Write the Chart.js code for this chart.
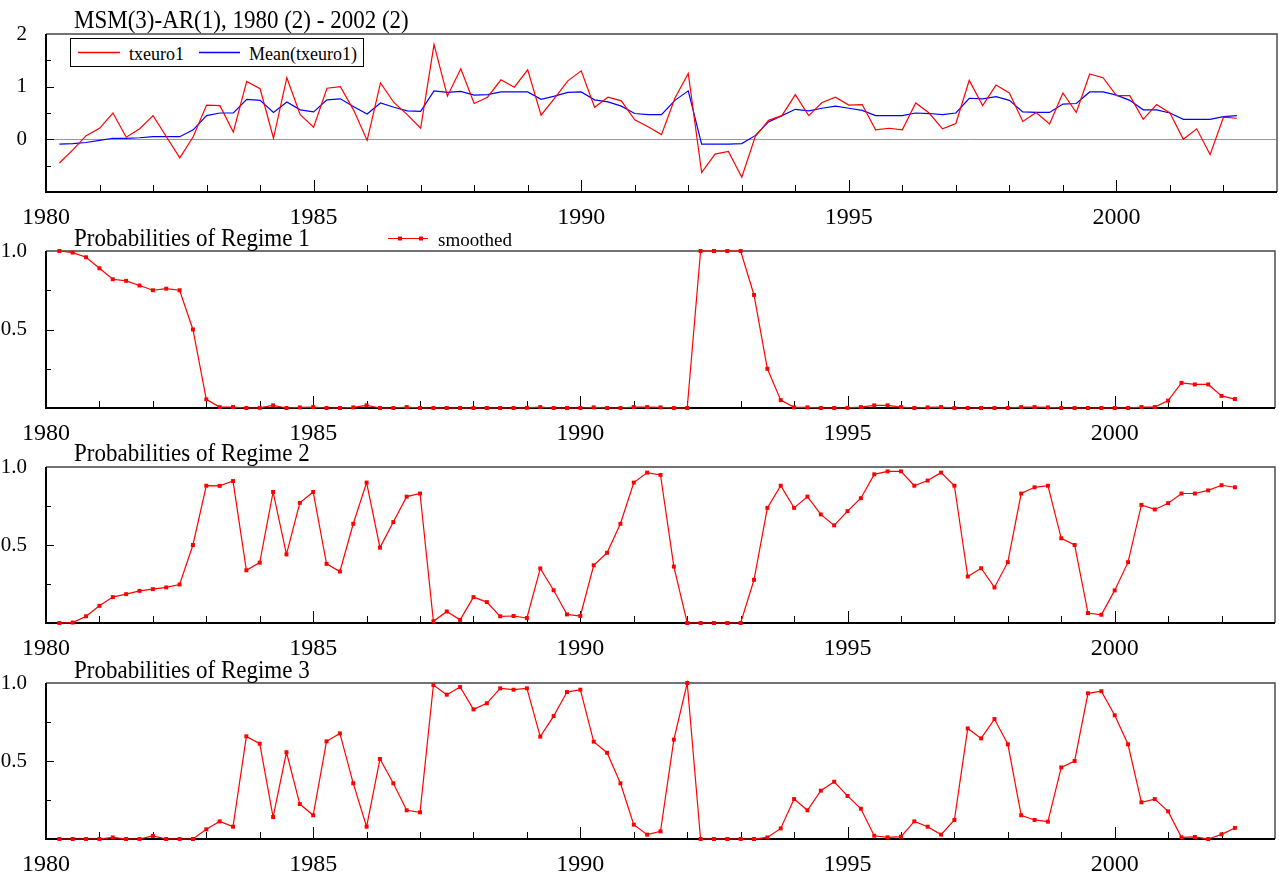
<!DOCTYPE html>
<html>
<head>
<meta charset="utf-8">
<script src="https://cdn.jsdelivr.net/npm/chart.js@4.4.1/dist/chart.umd.min.js"></script>
<style>
body { margin: 0; background: #fff; width: 1279px; height: 875px; position: relative; overflow: hidden; font-family: 'Liberation Serif', 'Times New Roman', serif; }
canvas { position: absolute; left: 0; }
.t { position: absolute; white-space: nowrap; line-height: 1; color: #000; transform-origin: 0 0; z-index: 2; }
.title { font-size: 25px; transform: scaleX(0.92); }
.legend { position: absolute; left: 70px; top: 38px; width: 292px; height: 27px; border: 1px solid #000; background: #fff; z-index: 2; }
.legend .t { font-size: 18px; }
svg.keys { position: absolute; left: 0; top: 0; z-index: 3; }
</style>
</head>
<body>
<canvas id="p1" width="1279" height="204" style="top:24px"></canvas>
<canvas id="p2" width="1279" height="203" style="top:241px"></canvas>
<canvas id="p3" width="1279" height="202" style="top:457px"></canvas>
<canvas id="p4" width="1279" height="202" style="top:673px"></canvas>

<div class="t title" style="left:74px;top:7px">MSM(3)-AR(1), 1980 (2) - 2002 (2)</div>
<div class="legend">
  <div class="t" style="left:58px;top:6px">txeuro1</div>
  <div class="t" style="left:178px;top:6px">Mean(txeuro1)</div>
</div>
<svg class="keys" width="1279" height="875">
  <line x1="78" y1="52.5" x2="120" y2="52.5" stroke="#ff0000" stroke-width="1.3"/>
  <line x1="199" y1="52.5" x2="240" y2="52.5" stroke="#0000ff" stroke-width="1.3"/>
  <line x1="388" y1="238.5" x2="428" y2="238.5" stroke="#ff0000" stroke-width="1.2"/>
  <rect x="398" y="236.5" width="4" height="4" fill="#ff0000"/>
  <rect x="419" y="236.5" width="4" height="4" fill="#ff0000"/>
</svg>
<div class="t title" style="left:74px;top:224.6px">Probabilities of Regime 1</div>
<div class="t" style="left:438px;top:229.6px;font-size:19px">smoothed</div>
<div class="t title" style="left:74px;top:439.6px">Probabilities of Regime 2</div>
<div class="t title" style="left:74px;top:657px">Probabilities of Regime 3</div>

<script>
// quarterly observations, 1980 (2) - 2002 (2)
var quarters = [
    '1980:2', '1980:3', '1980:4',
    '1981:1', '1981:2', '1981:3', '1981:4',
    '1982:1', '1982:2', '1982:3', '1982:4',
    '1983:1', '1983:2', '1983:3', '1983:4',
    '1984:1', '1984:2', '1984:3', '1984:4',
    '1985:1', '1985:2', '1985:3', '1985:4',
    '1986:1', '1986:2', '1986:3', '1986:4',
    '1987:1', '1987:2', '1987:3', '1987:4',
    '1988:1', '1988:2', '1988:3', '1988:4',
    '1989:1', '1989:2', '1989:3', '1989:4',
    '1990:1', '1990:2', '1990:3', '1990:4',
    '1991:1', '1991:2', '1991:3', '1991:4',
    '1992:1', '1992:2', '1992:3', '1992:4',
    '1993:1', '1993:2', '1993:3', '1993:4',
    '1994:1', '1994:2', '1994:3', '1994:4',
    '1995:1', '1995:2', '1995:3', '1995:4',
    '1996:1', '1996:2', '1996:3', '1996:4',
    '1997:1', '1997:2', '1997:3', '1997:4',
    '1998:1', '1998:2', '1998:3', '1998:4',
    '1999:1', '1999:2', '1999:3', '1999:4',
    '2000:1', '2000:2', '2000:3', '2000:4',
    '2001:1', '2001:2', '2001:3', '2001:4',
    '2002:1', '2002:2'
];

var txeuro1 = [
    -0.45, -0.20, 0.07, 0.21, 0.50, 0.04, 0.20, 0.45, 0.05, -0.35,
    0.05, 0.65, 0.64, 0.14, 1.10, 0.96, 0.02, 1.17, 0.47, 0.23,
    0.97, 1.00, 0.55, -0.02, 1.07, 0.70, 0.47, 0.21, 1.80, 0.82,
    1.34, 0.68, 0.80, 1.13, 0.99, 1.32, 0.46, 0.78, 1.11, 1.30,
    0.61, 0.80, 0.73, 0.37, 0.24, 0.09, 0.78, 1.25, -0.63, -0.28,
    -0.23, -0.72, 0.05, 0.36, 0.45, 0.85, 0.45, 0.70, 0.80, 0.65,
    0.66, 0.18, 0.21, 0.18, 0.69, 0.50, 0.20, 0.30, 1.12, 0.64,
    1.03, 0.88, 0.34, 0.51, 0.29, 0.88, 0.51, 1.24, 1.17, 0.83,
    0.83, 0.38, 0.66, 0.50, 0.00, 0.20, -0.29, 0.42, 0.40
];

var meanTxeuro1 = [
    -0.09, -0.08, -0.06, -0.02, 0.02, 0.02, 0.03, 0.05, 0.05, 0.05,
    0.18, 0.45, 0.50, 0.50, 0.76, 0.74, 0.51, 0.71, 0.56, 0.52,
    0.75, 0.77, 0.62, 0.48, 0.69, 0.61, 0.54, 0.53, 0.92, 0.89,
    0.91, 0.84, 0.85, 0.90, 0.90, 0.90, 0.76, 0.82, 0.89, 0.90,
    0.75, 0.71, 0.63, 0.49, 0.47, 0.47, 0.74, 0.92, -0.09, -0.09,
    -0.09, -0.08, 0.07, 0.33, 0.45, 0.57, 0.54, 0.59, 0.63, 0.59,
    0.55, 0.45, 0.45, 0.45, 0.50, 0.49, 0.47, 0.50, 0.78, 0.77,
    0.81, 0.74, 0.52, 0.51, 0.51, 0.67, 0.68, 0.90, 0.90, 0.84,
    0.74, 0.56, 0.56, 0.50, 0.38, 0.38, 0.38, 0.43, 0.45
];

var regime1 = [
    1.00, 0.99, 0.96, 0.89, 0.82, 0.81, 0.78, 0.75, 0.76, 0.75,
    0.50, 0.055, 0.006, 0.006, 0.00, 0.001, 0.017, 0.00, 0.004, 0.006,
    0.00, 0.00, 0.004, 0.017, 0.00, 0.00, 0.006, 0.00, 0.00, 0.00,
    0.00, 0.00, 0.00, 0.00, 0.00, 0.001, 0.006, 0.00, 0.00, 0.00,
    0.004, 0.00, 0.00, 0.006, 0.006, 0.004, 0.00, 0.00, 1.00, 1.00,
    1.00, 1.00, 0.72, 0.25, 0.05, 0.004, 0.004, 0.00, 0.00, 0.001,
    0.006, 0.017, 0.017, 0.006, 0.00, 0.004, 0.006, 0.00, 0.00, 0.00,
    0.00, 0.00, 0.006, 0.006, 0.004, 0.00, 0.00, 0.00, 0.00, 0.00,
    0.00, 0.006, 0.006, 0.047, 0.16, 0.15, 0.15, 0.077, 0.057
];

var regime2 = [
    0.00, 0.003, 0.043, 0.11, 0.166, 0.185, 0.206, 0.217, 0.228, 0.247,
    0.50, 0.88, 0.879, 0.91, 0.338, 0.387, 0.84, 0.44, 0.77, 0.84,
    0.379, 0.33, 0.636, 0.90, 0.483, 0.647, 0.81, 0.83, 0.011, 0.074,
    0.02, 0.166, 0.134, 0.043, 0.045, 0.032, 0.35, 0.21, 0.055, 0.045,
    0.37, 0.45, 0.636, 0.90, 0.964, 0.949, 0.362, 0.00, 0.00, 0.00,
    0.00, 0.00, 0.277, 0.738, 0.88, 0.738, 0.81, 0.696, 0.626, 0.717,
    0.80, 0.953, 0.972, 0.972, 0.88, 0.913, 0.964, 0.88, 0.298, 0.351,
    0.228, 0.39, 0.83, 0.87, 0.88, 0.543, 0.50, 0.064, 0.053, 0.209,
    0.39, 0.757, 0.728, 0.768, 0.83, 0.83, 0.85, 0.883, 0.87
];

var regime3 = [
    0.00, 0.00, 0.00, 0.00, 0.01, 0.00, 0.00, 0.02, 0.00, 0.00,
    0.00, 0.062, 0.113, 0.079, 0.658, 0.611, 0.141, 0.556, 0.224, 0.152,
    0.626, 0.677, 0.357, 0.079, 0.513, 0.357, 0.184, 0.171, 0.987, 0.925,
    0.974, 0.831, 0.87, 0.966, 0.957, 0.966, 0.656, 0.788, 0.942, 0.957,
    0.624, 0.553, 0.357, 0.092, 0.028, 0.049, 0.637, 1.00, 0.00, 0.00,
    0.00, 0.00, 0.00, 0.01, 0.068, 0.256, 0.184, 0.31, 0.367, 0.276,
    0.194, 0.021, 0.011, 0.015, 0.113, 0.079, 0.028, 0.122, 0.709, 0.645,
    0.769, 0.607, 0.152, 0.122, 0.111, 0.459, 0.50, 0.934, 0.947, 0.793,
    0.607, 0.235, 0.256, 0.177, 0.011, 0.013, 0.00, 0.03, 0.071
];

var xTickLabels = [1980, 1985, 1990, 1995, 2000];
var yTicksLevel = [0, 1, 2];
var yTicksProb = [0.5, 1.0];

var SERIF = "'Liberation Serif', 'Times New Roman', serif";

// quarter -> decimal year, so 1980:2 sits at 1980.25
var toPoints = function (values) {
    return values.map(function (v, i) {
        var parts = quarters[i].split(':');
        return { x: +parts[0] + (parts[1] - 1) / 4, y: v };
    });
};

// frame, zero line and inward tick marks
var axisFrame = {
    id: 'axisFrame',
    beforeDatasetsDraw: function (chart, args, opts) {
        var ctx = chart.ctx, a = chart.chartArea;
        var xs = chart.scales.x, ys = chart.scales.y;
        ctx.save();
        if (opts.zeroLine) {
            var y0 = Math.round(ys.getPixelForValue(0)) + 0.5;
            ctx.strokeStyle = '#999';
            ctx.lineWidth = 1;
            ctx.beginPath();
            ctx.moveTo(a.left, y0);
            ctx.lineTo(a.right, y0);
            ctx.stroke();
        }
        ctx.strokeStyle = '#000';
        ctx.lineWidth = 1;
        ctx.beginPath();
        for (var yr = xs.min + 1; yr < xs.max; yr++) {
            var px = Math.round(xs.getPixelForValue(yr)) + 0.5;
            var len = yr % 5 === 0 ? 12 : 7;
            ctx.moveTo(px, a.bottom);
            ctx.lineTo(px, a.bottom - len);
        }
        for (var v = ys.min + opts.yStep; v < ys.max - 1e-9; v += opts.yStep) {
            var py = Math.round(ys.getPixelForValue(v)) + 0.5;
            var major = opts.yMajor.indexOf(Math.round(v * 100) / 100) >= 0;
            ctx.moveTo(a.left, py);
            ctx.lineTo(a.left + (major ? 8 : 5), py);
        }
        ctx.stroke();
        ctx.strokeStyle = '#444';
        ctx.lineWidth = 1.4;
        ctx.beginPath();
        ctx.moveTo(a.left, a.top);
        ctx.lineTo(a.right, a.top);
        ctx.lineTo(a.right, a.bottom);
        ctx.stroke();
        ctx.strokeStyle = '#000';
        ctx.lineWidth = 2;
        ctx.beginPath();
        ctx.moveTo(a.left, a.top);
        ctx.lineTo(a.left, a.bottom);
        ctx.lineTo(a.right, a.bottom);
        ctx.stroke();
        ctx.restore();
    }
};

var makeOptions = function (yMin, yMax, yTicks, yStep, fmt, zeroLine) {
    return {
        responsive: false,
        animation: false,
        layout: { padding: { top: 10, right: 2, left: 0, bottom: 0 } },
        plugins: {
            legend: { display: false },
            tooltip: { enabled: false },
            axisFrame: { zeroLine: zeroLine, yStep: yStep, yMajor: yTicks }
        },
        scales: {
            x: {
                type: 'linear',
                min: 1980,
                max: 2003,
                afterFit: function (s) { s.height = 36; s.paddingLeft = 0; s.paddingRight = 0; },
                afterBuildTicks: function (s) {
                    s.ticks = xTickLabels.map(function (v) { return { value: v }; });
                },
                ticks: {
                    autoSkip: false,
                    maxRotation: 0,
                    padding: 3,
                    color: '#000',
                    font: { family: SERIF, size: 24 },
                    callback: function (v) { return String(v); }
                },
                grid: { display: false },
                border: { display: false }
            },
            y: {
                min: yMin,
                max: yMax,
                afterFit: function (s) { s.width = 46; s.paddingTop = 0; s.paddingBottom = 0; },
                afterBuildTicks: function (s) {
                    s.ticks = yTicks.map(function (v) { return { value: v }; });
                },
                ticks: {
                    padding: 11,
                    color: '#000',
                    font: { family: SERIF, size: 21 },
                    callback: fmt
                },
                grid: { display: false },
                border: { display: false }
            }
        }
    };
};

var lineSet = function (values, color) {
    return {
        data: toPoints(values),
        borderColor: color,
        borderWidth: 1.2,
        pointRadius: 0,
        tension: 0,
        clip: false
    };
};

var probSet = function (values) {
    return {
        data: toPoints(values),
        borderColor: '#ff0000',
        borderWidth: 1.2,
        pointStyle: 'rect',
        pointRadius: 2.8,
        pointBackgroundColor: '#ff0000',
        pointBorderWidth: 0,
        tension: 0,
        clip: false
    };
};

var fmtLevel = function (v) { return String(v); };
var fmtProb = function (v) { return v.toFixed(1); };

new Chart(document.getElementById('p1'), {
    type: 'line',
    data: { datasets: [lineSet(txeuro1, '#ff0000'), lineSet(meanTxeuro1, '#0000ff')] },
    options: makeOptions(-1, 2, yTicksLevel, 0.5, fmtLevel, true),
    plugins: [axisFrame]
});

[['p2', regime1], ['p3', regime2], ['p4', regime3]].forEach(function (p) {
    new Chart(document.getElementById(p[0]), {
        type: 'line',
        data: { datasets: [probSet(p[1])] },
        options: makeOptions(0, 1, yTicksProb, 0.25, fmtProb, false),
        plugins: [axisFrame]
    });
});
</script>
</body>
</html>
